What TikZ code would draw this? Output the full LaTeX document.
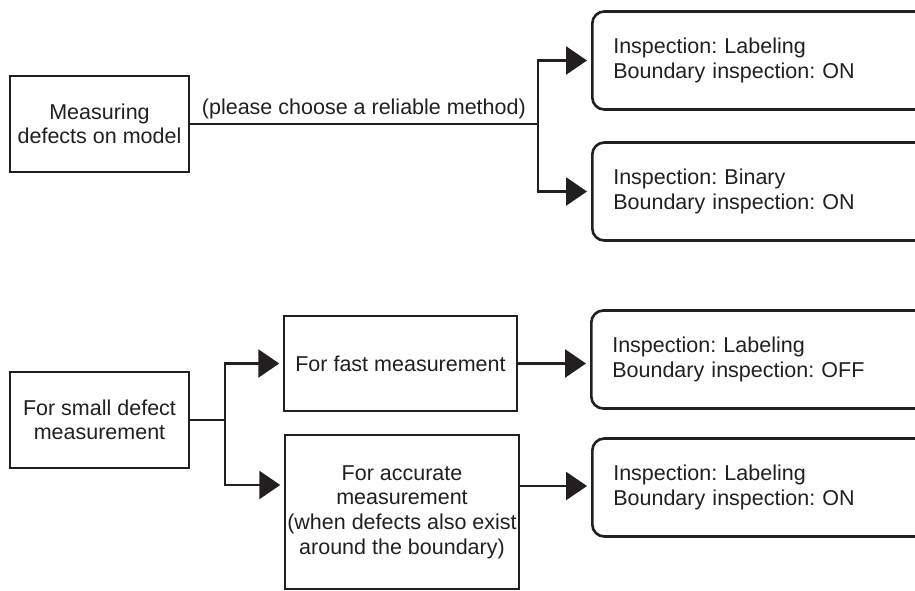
\documentclass[tikz,border=0pt]{standalone}
\usepackage{fontspec}
\setmainfont{Liberation Sans}
\usetikzlibrary{arrows.meta}
\definecolor{inkgray}{RGB}{35,31,32}
\frenchspacing
\tikzset{
  every node/.style={font=\fontsize{10.75}{12.3}\selectfont, text=inkgray},
  plainbox/.style={draw=inkgray, line width=0.75pt, align=center, inner sep=0pt},
  resultbox/.style={draw=inkgray, line width=1.3pt, rounded corners=6pt, anchor=west,
    minimum height=49pt, align=left, text width=151pt, inner xsep=10.5pt},
  flow/.style={-{Triangle[length=10.5pt,width=14pt]}, line width=1.35pt, draw=inkgray, shorten >=2pt},
  link/.style={line width=1.35pt, draw=inkgray},
}

\begin{document}
\begin{tikzpicture}[x=0.5pt, y=-0.5pt]
  \useasboundingbox (0,0) rectangle (915,590);
  \clip (0,0) rectangle (915,590);

  % model defects
  \node[plainbox, minimum width=89.5pt, minimum height=48pt] (measure) at (99.5,124) {Measuring\\defects on model};
  \node[resultbox] (res1) at (591,60.5) {Inspection: Labeling\\Boundary inspection: ON};
  \node[resultbox] (res2) at (591,191.5) {Inspection: Binary\\Boundary inspection: ON};
  \coordinate (split1) at (538,124);
  \draw[link] (measure.east) -- node[above, inner sep=2pt] {(please choose a reliable method)} (split1);
  \draw[flow] (split1) |- (res1.west);
  \draw[flow] (split1) |- (res2.west);

  % small defects
  \node[plainbox, minimum width=89.5pt, minimum height=48pt] (small) at (99.5,420) {For small defect\\measurement};
  \node[plainbox, minimum width=116.5pt, minimum height=47.5pt] (fast) at (400.5,363.5) {For fast measurement};
  \node[plainbox, minimum width=117pt, minimum height=77pt] (acc) at (402,512) {For accurate\\measurement\\(when defects also exist\\around the boundary)};
  \node[resultbox] (res3) at (590,359.5) {Inspection: Labeling\\Boundary inspection: OFF};
  \node[resultbox] (res4) at (591,487.5) {Inspection: Labeling\\Boundary inspection: ON};
  \coordinate (split2) at (225,420);
  \coordinate (accin) at ([yshift=13.5pt]acc.west);
  \coordinate (accout) at ([yshift=13pt]acc.east);
  \draw[link] (small.east) -- (split2);
  \draw[flow] (split2) |- (fast.west);
  \draw[flow] (split2) |- (accin);
  \draw[flow] (fast.east) -- (fast.east -| res3.west);
  \draw[flow] (accout) -- (accout -| res4.west);
\end{tikzpicture}
\end{document}
